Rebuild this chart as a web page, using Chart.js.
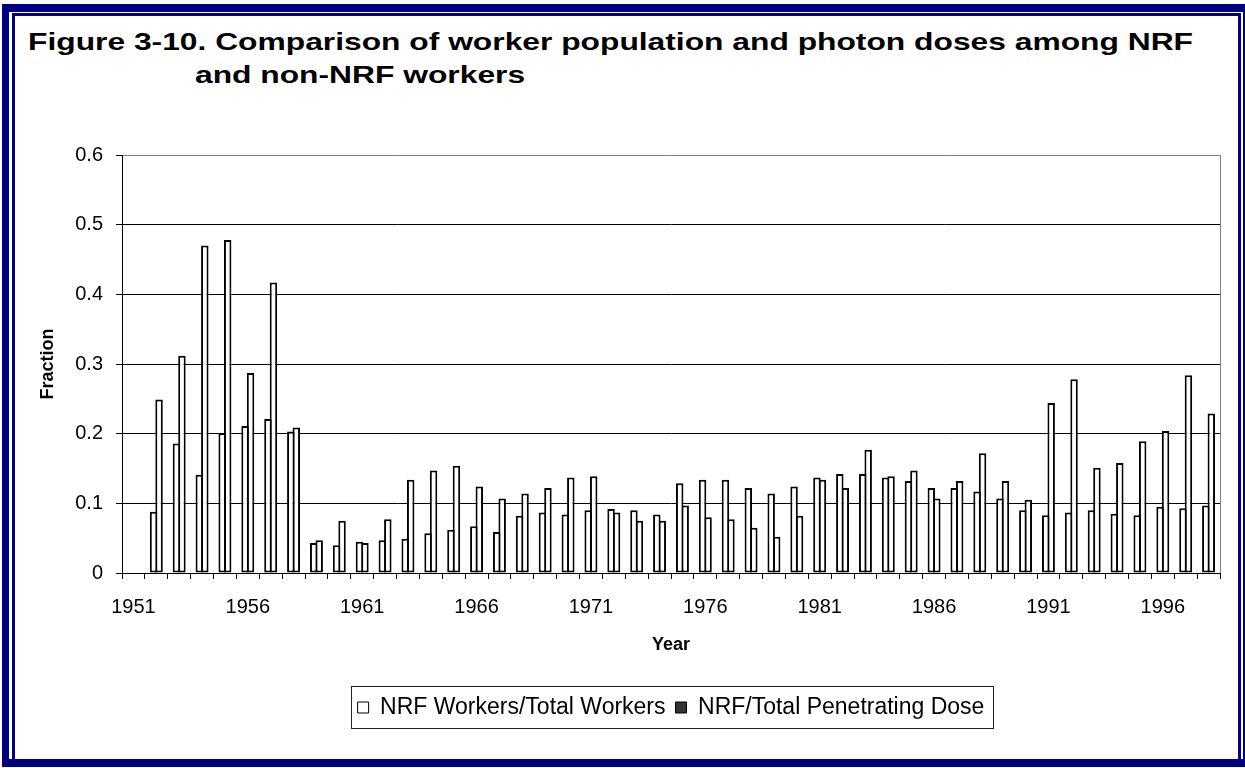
<!DOCTYPE html>
<html>
<head>
<meta charset="utf-8">
<title>Figure 3-10</title>
<script src="https://cdn.jsdelivr.net/npm/chart.js@4.4.1/dist/chart.umd.min.js"></script>
<style>
  html, body { margin: 0; padding: 0; background: #fff; overflow: hidden; width: 1245px; height: 768px; }
  #outer { position: absolute; left: 2px; top: 4px; width: 1249px; height: 763px; box-sizing: border-box;
           border: 8px solid #000080; border-left-width: 7px; }
  #inner { position: absolute; left: 3px; top: 1px; right: 2px; bottom: 0; border: 3px solid #000080; border-bottom: 0; }
  .ttl { position: absolute; font: bold 24px 'Liberation Sans', Arial, sans-serif; color: #000;
         white-space: nowrap; line-height: 24px; transform-origin: 0 0; }
  #chartBox { position: absolute; left: 14px; top: 100px; }
</style>
</head>
<body>
<div id="outer"><div id="inner"></div></div>
<div class="ttl" id="t1" style="left:28px; top:30px;">Figure 3-10. Comparison of worker population and photon doses among NRF</div>
<div class="ttl" id="t2" style="left:195px; top:63px;">and non-NRF workers</div>
<div id="chartBox"><canvas id="chart" width="1224" height="650"></canvas></div>

<script>
// Categories (one per year)
const years = [
    1951, 1952, 1953, 1954, 1955, 1956, 1957, 1958, 1959, 1960,
    1961, 1962, 1963, 1964, 1965, 1966, 1967, 1968, 1969, 1970,
    1971, 1972, 1973, 1974, 1975, 1976, 1977, 1978, 1979, 1980,
    1981, 1982, 1983, 1984, 1985, 1986, 1987, 1988, 1989, 1990,
    1991, 1992, 1993, 1994, 1995, 1996, 1997, 1998
];

// NRF Workers/Total Workers
const workerFraction = [
    null, 0.088, 0.186, 0.141, 0.201, 0.211, 0.221, 0.203, 0.043, 0.040,
    0.045, 0.047, 0.049, 0.057, 0.062, 0.067, 0.059, 0.082, 0.087, 0.084,
    0.090, 0.092, 0.090, 0.084, 0.129, 0.134, 0.134, 0.122, 0.114, 0.124,
    0.137, 0.142, 0.142, 0.137, 0.132, 0.122, 0.122, 0.117, 0.107, 0.090,
    0.083, 0.087, 0.090, 0.085, 0.083, 0.095, 0.093, 0.097
];

// NRF/Total Penetrating Dose
const doseFraction = [
    null, 0.249, 0.312, 0.470, 0.478, 0.287, 0.417, 0.209, 0.047, 0.075,
    0.043, 0.077, 0.134, 0.147, 0.154, 0.124, 0.107, 0.114, 0.122, 0.137,
    0.139, 0.087, 0.075, 0.075, 0.097, 0.080, 0.077, 0.065, 0.052, 0.082,
    0.134, 0.122, 0.177, 0.139, 0.147, 0.107, 0.132, 0.172, 0.132, 0.105,
    0.244, 0.278, 0.151, 0.158, 0.189, 0.204, 0.284, 0.229
];

const seriesNames = ['NRF Workers/Total Workers', 'NRF/Total Penetrating Dose'];
const legendFills = ['#ffffff', '#333333'];
const labeledYears = [1951, 1956, 1961, 1966, 1971, 1976, 1981, 1986, 1991, 1996];

const FONT = "'Liberation Sans', Arial, sans-serif";

// stretch the title to the width it has in the figure
function fitTitle() {
    const t1 = document.getElementById('t1');
    const t2 = document.getElementById('t2');
    const w = t1.getBoundingClientRect().width;
    const s = 1165 / w;
    t1.style.transform = 'scaleX(' + s + ')';
    t2.style.transform = 'scaleX(' + s + ')';
}

// grey frame on the right edge of the plot area
const plotFrame = {
    id: 'plotFrame',
    beforeDatasetsDraw(chart) {
        const {ctx, chartArea: a} = chart;
        ctx.save();
        ctx.strokeStyle = '#808080';
        ctx.lineWidth = 1;
        ctx.beginPath();
        ctx.moveTo(Math.round(a.right) + 0.5, a.top);
        ctx.lineTo(Math.round(a.right) + 0.5, a.bottom);
        ctx.stroke();
        ctx.restore();
    }
};

// box around the legend
const legendFrame = {
    id: 'legendFrame',
    afterDraw(chart) {
        const boxes = chart.legend && chart.legend.legendHitBoxes;
        if (!boxes || !boxes.length) return;
        const first = boxes[0];
        const last = boxes[boxes.length - 1];
        const x0 = Math.round(first.left - 7) + 0.5;
        const x1 = Math.round(last.left + last.width + 9) + 0.5;
        const y0 = Math.round(first.top - 10) + 0.5;
        const y1 = Math.round(first.top + first.height + 9) + 0.5;
        const ctx = chart.ctx;
        ctx.save();
        ctx.strokeStyle = '#222222';
        ctx.lineWidth = 1;
        ctx.strokeRect(x0, y0, x1 - x0, y1 - y0);
        ctx.restore();
    }
};

function makeChart() {
    const ctx = document.getElementById('chart');
    const barStyle = {
        backgroundColor: '#ffffff',
        borderColor: '#000000',
        borderWidth: 2,
        borderSkipped: false,
        categoryPercentage: 0.48,
        barPercentage: 1.36
    };

    new Chart(ctx, {
        type: 'bar',
        data: {
            labels: years,
            datasets: [
                Object.assign({label: seriesNames[0], data: workerFraction}, barStyle),
                Object.assign({label: seriesNames[1], data: doseFraction}, barStyle)
            ]
        },
        options: {
            responsive: false,
            maintainAspectRatio: false,
            animation: false,
            layout: { padding: { top: 55, right: 18, left: 0, bottom: 21 } },
            plugins: {
                title: { display: false },
                tooltip: { enabled: false },
                legend: {
                    position: 'bottom',
                    fullSize: false,
                    labels: {
                        color: '#000',
                        font: { family: FONT, size: 23 },
                        boxWidth: 11,
                        boxHeight: 11,
                        padding: 10,
                        generateLabels(chart) {
                            const items = Chart.defaults.plugins.legend.labels.generateLabels(chart);
                            items.forEach((it, i) => {
                                it.fillStyle = legendFills[i];
                                it.strokeStyle = '#000';
                                it.lineWidth = 1;
                            });
                            return items;
                        }
                    }
                }
            },
            scales: {
                x: {
                    offset: true,
                    afterFit(scale) { scale.height = 113; },
                    grid: {
                        offset: true,
                        drawOnChartArea: false,
                        drawTicks: true,
                        tickLength: 6,
                        color: '#000',
                        tickColor: '#000'
                    },
                    border: { color: '#000', width: 1 },
                    ticks: {
                        autoSkip: false,
                        maxRotation: 0,
                        minRotation: 0,
                        padding: 16,
                        color: '#000',
                        font: { family: FONT, size: 20 },
                        callback: function(value, index) {
                            const y = years[index];
                            return labeledYears.includes(y) ? String(y) : '';
                        }
                    },
                    title: {
                        display: true,
                        text: 'Year',
                        color: '#000',
                        font: { family: FONT, size: 18, weight: 'bold' },
                        padding: { top: 17, bottom: 30 }
                    }
                },
                y: {
                    min: 0,
                    max: 0.6,
                    afterFit(scale) { scale.width = 108; },
                    grid: {
                        color: c => (c.tick && Math.abs(c.tick.value - 0.6) < 1e-9) ? '#808080' : '#000',
                        tickColor: '#000',
                        tickLength: 6,
                        lineWidth: 1
                    },
                    border: { color: '#000', width: 1 },
                    ticks: {
                        stepSize: 0.1,
                        padding: 13,
                        color: '#000',
                        font: { family: FONT, size: 20 },
                        callback: v => (Math.abs(v) < 1e-9 ? '0' : v.toFixed(1))
                    },
                    title: {
                        display: true,
                        text: 'Fraction',
                        color: '#000',
                        font: { family: FONT, size: 18, weight: 'bold' },
                        padding: { top: 23, bottom: 0 }
                    }
                }
            }
        },
        plugins: [plotFrame, legendFrame]
    });
}

fitTitle();
makeChart();
</script>
</body>
</html>
